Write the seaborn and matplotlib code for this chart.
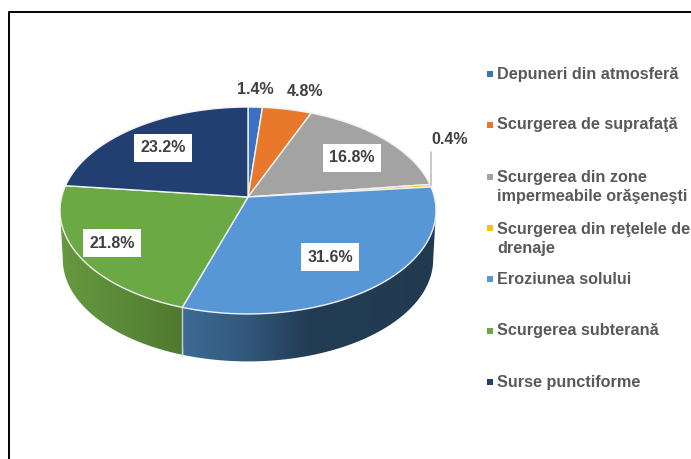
import numpy as np
import matplotlib
matplotlib.use('Agg')
import matplotlib.pyplot as plt
from matplotlib.colors import LinearSegmentedColormap
from matplotlib.patches import Polygon
import seaborn as sns

categories = ['Depuneri din atmosferă', 'Scurgerea de suprafaţă',
              'Scurgerea din zone\nimpermeabile orăşeneşti',
              'Scurgerea din reţelele de\ndrenaje', 'Eroziunea solului',
              'Scurgerea subterană', 'Surse punctiforme']
values = [1.4, 4.8, 16.8, 0.4, 31.6, 21.8, 23.2]
colors = ['#3b70c2', '#e8792c', '#a3a3a3', '#fdc010', '#5797d5', '#6ba944', '#223f72']

# layout, in pixels of the 691x459 picture
label_x = [255, 305, 352, 450, 330, 112, 163]
label_y = [89, 91, 158, 139, 257, 243, 148]
label_box = [False, False, True, False, True, True, True]
legend_y = [74, 125, 187, 239, 279, 331, 382]
marker_y = [74, 125, 177, 228, 279, 331, 382]

cx, cy = 248, 197
a, b, k = 101.7, 186.4, 0.1304
depth = 49


def project(theta, shrink=1.0, drop=0):
    # tilted disc, the far edge looks smaller
    u, v = np.sin(theta), np.cos(theta)
    x = b * u / (1 + k * v)
    y = a * v / (1 + k * v)
    mid = -a * k / (1 - k ** 2)
    return cx + x * shrink, cy - (mid + (y - mid) * shrink) + drop


def side(start, end, stops, xmin, xmax):
    t = np.radians(np.linspace(start, end, 120))
    x1, y1 = project(t)
    x2, y2 = project(t, shrink=0.985, drop=depth)
    pts = np.column_stack([np.r_[x1, x2[::-1]], np.r_[y1, y2[::-1]]])
    poly = Polygon(pts, closed=True, transform=ax.transData, fc='none', ec='none')
    ax.add_patch(poly)
    cmap = LinearSegmentedColormap.from_list('side', stops)
    im = ax.imshow(np.linspace(0, 1, 256)[None, :], cmap=cmap, aspect='auto',
                   extent=[xmin, xmax, 380, 200], zorder=1)
    im.set_clip_path(poly)


sns.set_theme(style='white')
plt.rcParams['font.family'] = ['Liberation Sans', 'DejaVu Sans']

fig = plt.figure(figsize=(6.91, 4.59), dpi=100)
ax = fig.add_axes([0, 0, 1, 1])

# rim of the pie, only the two front slices show
edges = np.cumsum([0] + values) * 3.6
side(97.5, edges[5], ['#3d6a95', '#33587c', '#223c53', '#223c53', '#223a50'], 182, 436)
side(edges[5], 262.5, ['#67993f', '#5a8a38', '#507a2f'], 60, 183)
t = np.radians(np.array([edges[5]]))
xe, ye = project(t)
ax.plot([xe[0], xe[0]], [ye[0], ye[0] + depth], color='#c9d3d6', lw=1, zorder=2)

# top face
for i, val in enumerate(values):
    t = np.radians(np.linspace(edges[i], edges[i + 1], 60))
    x, y = project(t)
    ax.fill(np.r_[cx, x], np.r_[cy, y], color=colors[i], ec='#f2f2f2', lw=1, zorder=3)

# leader for the smallest slice
ax.plot([431, 431], [152, 185], color='#bfbfbf', lw=1.2, zorder=4)

for i, val in enumerate(values):
    box = dict(fc='white', ec='none', pad=4.5) if label_box[i] else None
    ax.text(label_x[i], label_y[i], f'{val}%', ha='center', va='center', fontsize=11.5,
            fontweight='bold', color='#404040', bbox=box, zorder=5)

# legend
sns.scatterplot(x=[490] * len(categories), y=marker_y, hue=categories, palette=colors,
                marker='s', s=22, linewidth=0, legend=False, ax=ax, zorder=5)
for i, lab in enumerate(categories):
    ax.text(497, legend_y[i], lab, ha='left', va='center', fontsize=11.7, fontweight='bold',
            color='#595959', linespacing=1.4)

# frame of the picture
ax.plot([9, 9, 691], [459, 12, 12], color='black', lw=1.4, zorder=6)

ax.set_xlim(0, 691)
ax.set_ylim(459, 0)
ax.axis('off')
fig.savefig('out.png', dpi=100)
